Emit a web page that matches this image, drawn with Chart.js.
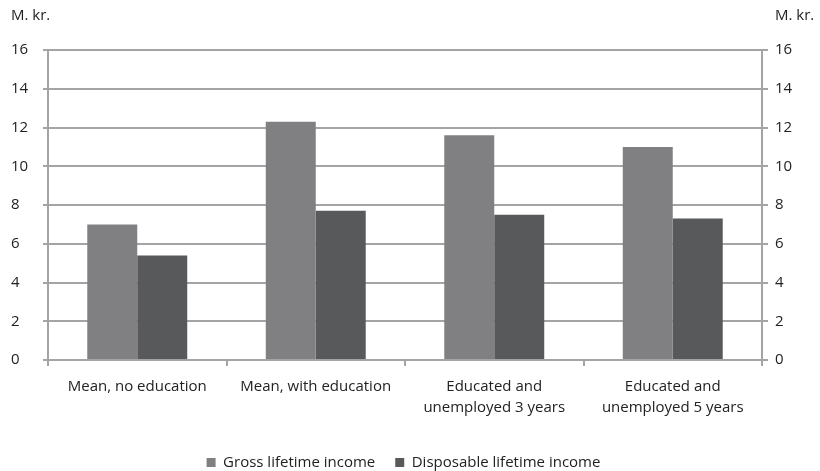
<!DOCTYPE html>
<html>
<head>
<meta charset="utf-8">
<script src="https://cdn.jsdelivr.net/npm/chart.js@4/dist/chart.umd.min.js"></script>
<style>
  html, body { margin: 0; padding: 0; background: #fff; }
  #wrap { width: 820px; height: 471px; }
</style>
</head>
<body>
<div id="wrap"><canvas id="incomeChart"></canvas></div>
<script>
const categories = [
    'Mean, no education',
    'Mean, with education',
    ['Educated and', 'unemployed 3 years'],
    ['Educated and', 'unemployed 5 years']
];
const grossIncome = [7.0, 12.3, 11.6, 11.0];
const disposableIncome = [5.4, 7.7, 7.5, 7.3];
const seriesNames = ['Gross lifetime income', 'Disposable lifetime income'];
const unitLabel = 'M. kr.';

const gridGrey = '#a4a4a6';
const textFont = { family: 'Open Sans', size: 15, lineHeight: 1.4 };

// writes the unit above both value axes
const unitTitles = {
    id: 'unitTitles',
    afterDraw(chart) {
        const ctx = chart.ctx;
        ctx.save();
        ctx.font = '15px "Open Sans"';
        ctx.fillStyle = '#222';
        ctx.textBaseline = 'middle';
        ctx.textAlign = 'left';
        ctx.fillText(unitLabel, 11, 16);
        ctx.fillText(unitLabel, 775, 16);
        ctx.restore();
    }
};

const data = {
    labels: categories,
    datasets: [{
        label: seriesNames[0],
        backgroundColor: '#808083',
        data: grossIncome,
        borderWidth: 0
    }, {
        label: seriesNames[1],
        backgroundColor: '#58595b',
        data: disposableIncome,
        borderWidth: 0
    }]
};

const config = {
    type: 'bar',
    data: data,
    plugins: [unitTitles],
    options: {
        responsive: true,
        maintainAspectRatio: false,
        animation: false,
        layout: { padding: { left: 11, top: 50, right: 24, bottom: -9 } },
        datasets: {
            bar: { categoryPercentage: 0.56, barPercentage: 1 }
        },
        plugins: {
            tooltip: { enabled: false },
            legend: {
                position: 'bottom',
                labels: {
                    boxWidth: 9,
                    boxHeight: 9,
                    padding: 20,
                    color: '#222',
                    font: textFont
                }
            }
        },
        scales: {
            x: {
                grid: {
                    drawOnChartArea: false,
                    drawTicks: true,
                    tickLength: 6,
                    color: gridGrey,
                    lineWidth: 2
                },
                border: { color: gridGrey, width: 2 },
                ticks: { color: '#222', font: textFont, padding: 10, maxRotation: 0 },
                afterFit(axis) { axis.height = 75; }
            },
            y: {
                position: 'left',
                min: 0,
                max: 16,
                grid: { color: gridGrey, lineWidth: 2, tickLength: 5 },
                border: { color: gridGrey, width: 2 },
                ticks: { stepSize: 2, color: '#222', font: textFont, crossAlign: 'far' },
                afterFit(axis) { axis.width = 37; }
            },
            y2: {
                position: 'right',
                min: 0,
                max: 16,
                grid: { drawOnChartArea: false, color: gridGrey, lineWidth: 2, tickLength: 6 },
                border: { color: gridGrey, width: 2 },
                ticks: { stepSize: 2, color: '#222', font: textFont, padding: 7 },
                afterFit(axis) { axis.width = 34; }
            }
        }
    }
};

const incomeChart = new Chart(document.getElementById('incomeChart'), config);
</script>
</body>
</html>
